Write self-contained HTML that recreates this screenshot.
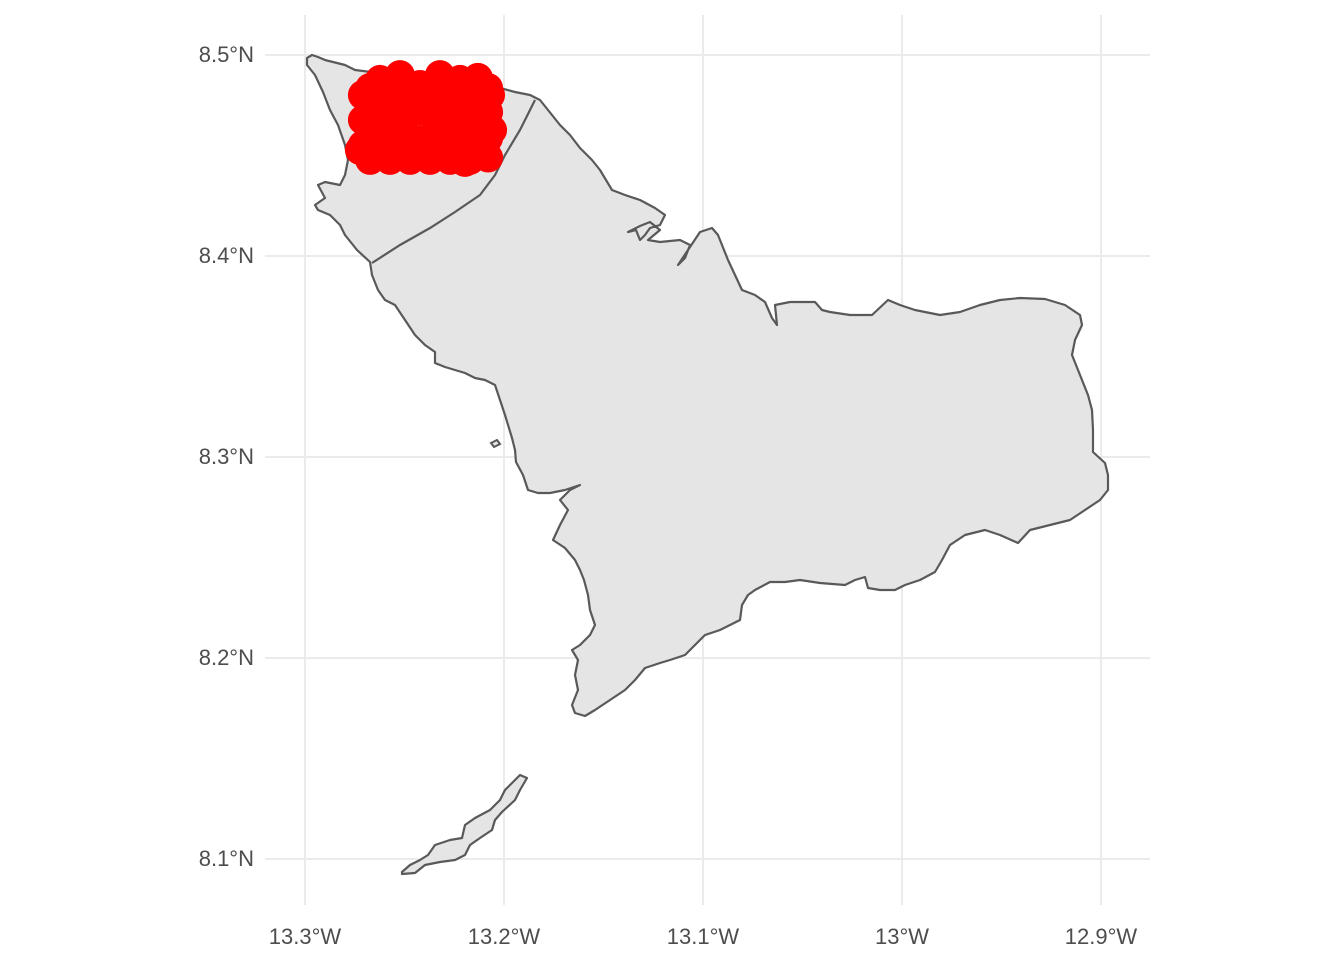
<!DOCTYPE html>
<html><head><meta charset="utf-8"><style>
html,body{margin:0;padding:0;background:#fff;}
svg text{font-family:"Liberation Sans",sans-serif;font-size:22px;fill:#4d4d4d;}
</style></head><body>
<svg id="map" width="1344" height="960" xmlns="http://www.w3.org/2000/svg">
<g id="grid"></g>
<g>
<path fill="#e5e5e5" stroke="#595959" stroke-width="2.2" stroke-linejoin="round" d="M307,58 L312,55 L318,57 L325,60 L345,65 L355,70 L500,88 L515,92 L530,95 L540,100 L548,110 L560,125 L570,135 L580,148 L592,160 L600,170 L606,180 L612,190 L625,195 L640,200 L655,208 L665,215 L660,225 L650,228 L645,235 L640,240 L636,230 L628,232 L640,226 L650,222 L660,230 L648,240 L660,242 L680,240 L690,245 L685,258 L678,265 L688,250 L700,232 L712,228 L718,235 L722,245 L728,260 L735,275 L742,290 L755,295 L765,302 L772,318 L777,325 L775,305 L790,302 L815,302 L822,310 L830,312 L850,315 L872,315 L888,300 L900,305 L915,310 L940,315 L960,312 L980,305 L1000,300 L1020,298 L1045,299 L1065,305 L1080,315 L1082,325 L1075,340 L1072,355 L1080,375 L1088,395 L1092,410 L1093,430 L1093,452 L1105,463 L1108,475 L1108,490 L1100,500 L1085,510 L1070,520 L1050,525 L1030,530 L1018,543 L1000,535 L985,530 L965,535 L950,545 L942,560 L935,572 L920,580 L905,585 L895,590 L880,590 L868,588 L865,577 L855,580 L845,585 L820,583 L800,580 L785,582 L770,582 L755,590 L748,595 L742,605 L740,620 L730,625 L720,630 L705,635 L695,645 L685,655 L670,660 L660,663 L645,668 L635,680 L625,690 L610,700 L595,710 L585,716 L575,713 L572,705 L578,690 L575,675 L578,660 L572,650 L580,645 L590,635 L595,625 L590,610 L588,595 L584,580 L580,570 L575,560 L565,548 L553,540 L560,525 L568,510 L560,500 L570,490 L580,485 L565,490 L550,493 L538,493 L528,490 L523,475 L516,462 L515,450 L512,438 L505,415 L500,400 L495,385 L485,380 L475,378 L465,373 L445,367 L435,363 L435,352 L425,345 L415,335 L405,320 L395,305 L385,300 L378,290 L372,275 L370,262 L357,250 L345,235 L340,225 L330,215 L318,210 L315,205 L325,198 L318,185 L325,182 L340,185 L345,175 L348,160 L345,145 L338,125 L330,110 L323,92 L315,75 L307,65 Z"/>
<path fill="none" stroke="#595959" stroke-width="2.2" d="M372,263 L400,245 L430,228 L455,212 L480,195 L495,175 L505,155 L520,130 L535,100"/>
<path fill="#e5e5e5" stroke="#595959" stroke-width="2" d="M491,443 L497,440 L500,444 L494,447 Z"/>
<path fill="#e5e5e5" stroke="#595959" stroke-width="2.2" stroke-linejoin="round" d="M402,872 L410,865 L420,860 L428,855 L435,845 L450,840 L462,838 L465,825 L475,818 L490,810 L500,800 L505,790 L515,780 L520,775 L527,778 L520,790 L515,800 L502,812 L495,820 L492,830 L480,838 L470,845 L465,855 L455,860 L440,862 L425,865 L415,873 L402,874 Z"/>
</g>
<g id="points"></g>
<g id="axes"></g>
</svg>
<script>
const ptLon=[-13.2709,-13.2709,-13.2709,-13.2623,-13.2623,-13.2623,-13.2623,-13.2523,-13.2523,-13.2523,-13.2523,-13.2422,-13.2422,-13.2422,-13.2422,-13.2322,-13.2322,-13.2322,-13.2322,-13.2221,-13.2221,-13.2221,-13.2221,-13.2131,-13.2131,-13.2121,-13.2095,-13.2070,-13.2060,-13.2196,-13.2724,
-13.2673,-13.2573,-13.2472,-13.2372,-13.2271,-13.2171,-13.2080,
-13.2673,-13.2573,-13.2472,-13.2372,-13.2271,-13.2171,-13.2080,
-13.2673,-13.2573,-13.2472,-13.2372,-13.2271,-13.2171,-13.2080,
-13.2673,-13.2573,-13.2472,-13.2372,-13.2271,-13.2171,-13.2080];
const ptLat=[8.4801,8.4677,8.4552,8.4876,8.4751,8.4627,8.4527,8.4900,8.4776,8.4652,8.4527,8.4851,8.4726,8.4577,8.4502,8.4900,8.4776,8.4652,8.4527,8.4876,8.4751,8.4627,8.4502,8.4886,8.4776,8.4652,8.4527,8.4801,8.4627,8.4468,8.4527,
8.4836,8.4836,8.4836,8.4836,8.4836,8.4836,8.4836,
8.4716,8.4716,8.4716,8.4716,8.4716,8.4716,8.4716,
8.4587,8.4587,8.4587,8.4587,8.4587,8.4587,8.4587,
8.4478,8.4478,8.4478,8.4478,8.4478,8.4478,8.4490];
const xTicks=[-13.3,-13.2,-13.1,-13.0,-12.9];
const xLabels=["13.3°W","13.2°W","13.1°W","13°W","12.9°W"];
const yTicks=[8.5,8.4,8.3,8.2,8.1];
const yLabels=["8.5°N","8.4°N","8.3°N","8.2°N","8.1°N"];
const NS="http://www.w3.org/2000/svg";
function xs(v){return 305+(v+13.3)*1990;}
function ys(v){return 55+(8.5-v)*2010;}
const grid=document.getElementById('grid'),axes=document.getElementById('axes'),pts=document.getElementById('points');
xTicks.forEach((t,i)=>{
 const l=document.createElementNS(NS,'line');
 
 
 l.setAttribute('x1',xs(t));l.setAttribute('x2',xs(t));l.setAttribute('y1',15);l.setAttribute('y2',905);
 l.setAttribute('stroke','#ebebeb');l.setAttribute('stroke-width','2');grid.appendChild(l);
 const tx=document.createElementNS(NS,'text');
 
 
 tx.setAttribute('x',xs(t));tx.setAttribute('y',944);tx.setAttribute('text-anchor','middle');tx.textContent=xLabels[i];axes.appendChild(tx);
});
yTicks.forEach((t,i)=>{
 const l=document.createElementNS(NS,'line');
 
 
 l.setAttribute('x1',265);l.setAttribute('x2',1150);l.setAttribute('y1',ys(t));l.setAttribute('y2',ys(t));
 l.setAttribute('stroke','#ebebeb');l.setAttribute('stroke-width','2');grid.appendChild(l);
 const tx=document.createElementNS(NS,'text');
 
 
 tx.setAttribute('x',254);tx.setAttribute('y',ys(t)+7);tx.setAttribute('text-anchor','end');tx.textContent=yLabels[i];axes.appendChild(tx);
});
ptLon.forEach((lo,i)=>{
 const c=document.createElementNS(NS,'circle');
 
 
 c.setAttribute('cx',xs(lo));c.setAttribute('cy',ys(ptLat[i]));c.setAttribute('r',15);c.setAttribute('fill','#ff0000');pts.appendChild(c);
});
</script>
</body></html>
